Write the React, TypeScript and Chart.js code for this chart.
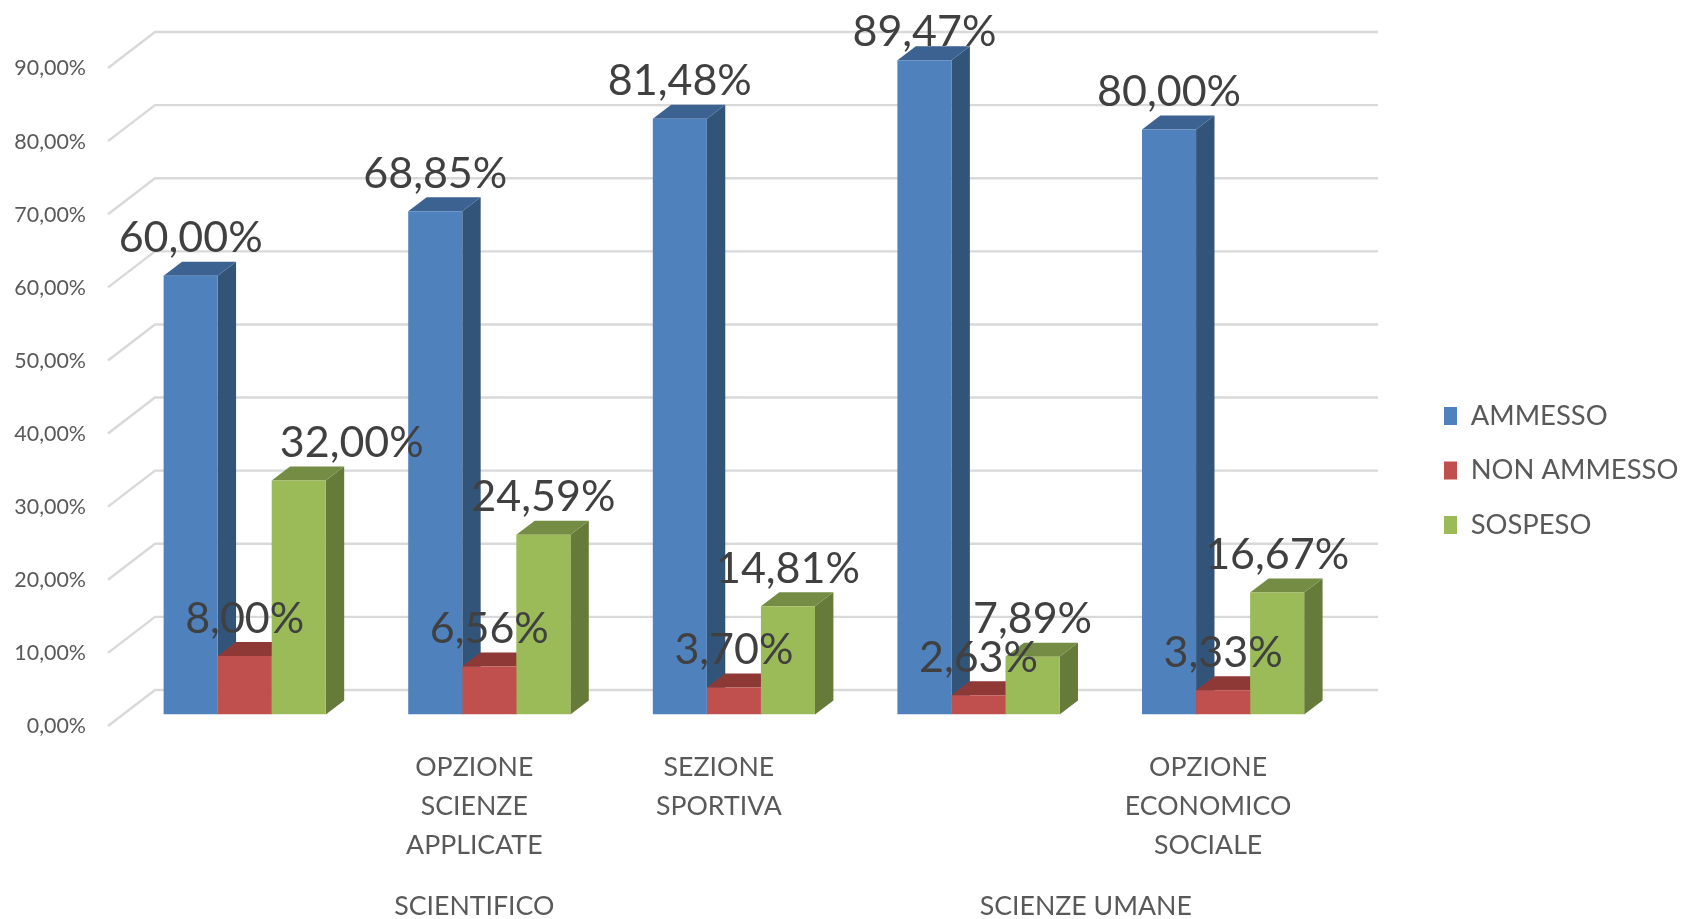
import React, { useEffect, useRef } from "react";
import { Chart, registerables } from "chart.js";

Chart.register(...registerables);

const categories: (string | string[])[] = [
  "",
  ["OPZIONE", "SCIENZE", "APPLICATE"],
  ["SEZIONE", "SPORTIVA"],
  "",
  ["OPZIONE", "ECONOMICO", "SOCIALE"],
];
const groupLabels = ["SCIENTIFICO", "SCIENZE UMANE"];
const groupCentres = [1, 3.5];
const ammesso = [60.0, 68.85, 81.48, 89.47, 80.0];
const nonAmmesso = [8.0, 6.56, 3.7, 2.63, 3.33];
const sospeso = [32.0, 24.59, 14.81, 7.89, 16.67];

const W = 1683;
const H = 919;
const AREA_LEFT = 122.4;
const AREA_RIGHT = 1345.4;
const BASE_Y = 714.5;
const DEPTH_X = 18.4;
const DEPTH_Y = 14;
const FONT = "Lato, sans-serif";
const SWATCH = 18;

const faces = [
  { front: "#4f81bd", top: "#3c6291", side: "#325479" },
  { front: "#c0504d", top: "#8f3937", side: "#7d3432" },
  { front: "#9bbb59", top: "#748c43", side: "#667a3a" },
];
// hand-moved data labels in the reference
const labelShiftX = [[0, 0, 0, 0, 0], [0, 0, 0, 0, 0], [53, 0, 0, 0, 0]];
const labelShiftY = [[0, 0, 0, 9.5, 0], [0, 0, 0, 0, 0], [0, 0, 0, 0, 0]];

const fmt = (v: number) => v.toFixed(2).replace(".", ",") + "%";

const threeD = {
  id: "threeD",
  beforeLayout(chart: any) {
    const l = chart.legend;
    if (l && !l.__patched) {
      const f = l.fit.bind(l);
      l.fit = () => {
        f();
        l.width = W - AREA_RIGHT;
      };
      l.__patched = true;
    }
  },
  afterLayout(chart: any) {
    const l = chart.legend;
    const pad = l.options.labels.padding;
    l.left = 1444 - pad;
    l.right = W;
    l.top = 11;
    l.bottom = H + 11;
    l.adjustHitBoxes();
  },
  afterDraw(chart: any) {
    const l = chart.legend;
    const ctx = chart.ctx;
    ctx.save();
    l.legendItems.forEach((it: any, i: number) => {
      const hb = l.legendHitBoxes[i];
      ctx.fillStyle = it.fillStyle;
      ctx.fillRect(hb.left, hb.top + (hb.height - SWATCH) / 2, SWATCH, SWATCH);
    });
    ctx.restore();
  },
  beforeDatasetsDraw(chart: any) {
    const ctx = chart.ctx;
    const y = chart.scales.y;
    ctx.save();
    ctx.strokeStyle = "#d9d9d9";
    ctx.lineWidth = 2.4;
    y.ticks.forEach((t: any) => {
      const py = y.getPixelForValue(t.value) - 24.5;
      ctx.beginPath();
      ctx.moveTo(108, py + 36);
      ctx.lineTo(155, py);
      ctx.lineTo(1378, py);
      ctx.stroke();
    });
    chart.data.datasets.forEach((_: any, d: number) => {
      const c = faces[d];
      chart.getDatasetMeta(d).data.forEach((b: any) => {
        const p = b.getProps(["x", "y", "base", "width"], true);
        const l = p.x - p.width / 2;
        const r = p.x + p.width / 2;
        ctx.fillStyle = c.side;
        ctx.beginPath();
        ctx.moveTo(r, p.y);
        ctx.lineTo(r + DEPTH_X, p.y - DEPTH_Y);
        ctx.lineTo(r + DEPTH_X, p.base - DEPTH_Y);
        ctx.lineTo(r, p.base);
        ctx.closePath();
        ctx.fill();
        ctx.fillStyle = c.top;
        ctx.beginPath();
        ctx.moveTo(l, p.y);
        ctx.lineTo(l + DEPTH_X, p.y - DEPTH_Y);
        ctx.lineTo(r + DEPTH_X, p.y - DEPTH_Y);
        ctx.lineTo(r, p.y);
        ctx.closePath();
        ctx.fill();
      });
    });
    ctx.restore();
  },
  afterDatasetsDraw(chart: any) {
    const ctx = chart.ctx;
    ctx.save();
    ctx.fillStyle = "#404040";
    ctx.font = `43px ${FONT}`;
    ctx.textAlign = "center";
    ctx.textBaseline = "alphabetic";
    chart.data.datasets.forEach((ds: any, d: number) => {
      chart.getDatasetMeta(d).data.forEach((b: any, i: number) => {
        const p = b.getProps(["x", "y"], true);
        ctx.fillText(fmt(ds.data[i]), p.x + labelShiftX[d][i], p.y - 23.5 + labelShiftY[d][i]);
      });
    });
    const x = chart.scales.x;
    ctx.fillStyle = "#595959";
    ctx.font = `26.7px ${FONT}`;
    groupLabels.forEach((g, i) => {
      ctx.fillText(g, x.getPixelForValue(groupCentres[i]) - 15, 915);
    });
    ctx.restore();
  },
};

export default function App() {
  const ref = useRef<HTMLCanvasElement>(null);
  useEffect(() => {
    const chart = new Chart(ref.current!, {
      type: "bar",
      data: {
        labels: categories as any,
        datasets: [
          { label: "AMMESSO", data: ammesso, backgroundColor: faces[0].front },
          { label: "NON AMMESSO", data: nonAmmesso, backgroundColor: faces[1].front },
          { label: "SOSPESO", data: sospeso, backgroundColor: faces[2].front },
        ],
      },
      options: {
        animation: false,
        responsive: false,
        layout: { padding: { top: 56.5, left: 0, right: 0, bottom: 0 } },
        datasets: { bar: { categoryPercentage: 0.663, barPercentage: 1, borderWidth: 0 } },
        scales: {
          x: {
            grid: { display: false, drawTicks: false },
            border: { display: false },
            afterFit: (s: any) => {
              s.height = H - BASE_Y;
            },
            ticks: {
              autoSkip: false,
              maxRotation: 0,
              minRotation: 0,
              labelOffset: -15,
              padding: 33,
              color: "#595959",
              font: { family: FONT, size: 26.7, lineHeight: 39 / 26.7 },
            },
          },
          y: {
            min: 0,
            max: 90,
            grid: { display: false, drawTicks: false },
            border: { display: false },
            afterFit: (s: any) => {
              s.width = AREA_LEFT;
            },
            ticks: {
              stepSize: 10,
              padding: 36.4,
              labelOffset: 12,
              color: "#595959",
              font: { family: FONT, size: 21.4 },
              callback: (v: any) => fmt(Number(v)),
            },
          },
        },
        plugins: {
          tooltip: { enabled: false },
          legend: {
            position: "right",
            labels: {
              boxWidth: 13,
              boxHeight: 18,
              padding: 27.2,
              color: "#595959",
              font: { family: FONT, size: 27.4 },
            },
          },
        },
      },
      plugins: [threeD],
    } as any);
    return () => chart.destroy();
  }, []);
  return (
    <div style={{ position: "absolute", left: 0, top: 0, width: W, height: H }}>
      <canvas ref={ref} width={W} height={H} style={{ display: "block", width: W, height: H }} />
    </div>
  );
}
